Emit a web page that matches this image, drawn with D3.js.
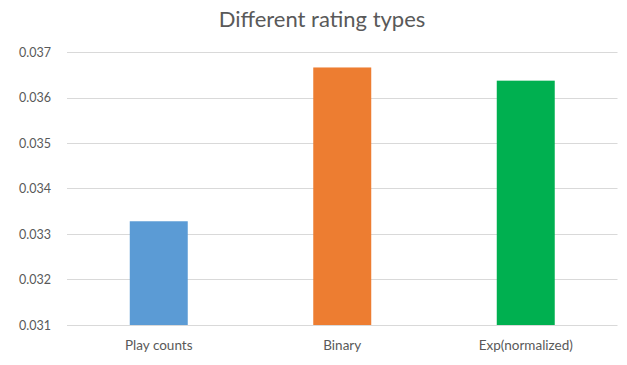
<!DOCTYPE html>
<html>
<head>
<meta charset="utf-8">
<script src="https://cdn.jsdelivr.net/npm/d3@7"></script>
<style>
  html, body { margin: 0; padding: 0; background: #fff; }
  svg { display: block; }
</style>
</head>
<body>
<svg id="chart" width="627" height="365"></svg>
<script>
// Chart content
const title = "Different rating types";
const categories = ["Play counts", "Binary", "Exp(normalized)"];
const values = [0.03328, 0.03666, 0.03637];
const barColors = ["#5b9bd5", "#ed7d31", "#00b050"];
const yTicks = [0.031, 0.032, 0.033, 0.034, 0.035, 0.036, 0.037];

const svg = d3.select("#chart");
const font = "Lato, 'Open Sans', sans-serif";
const textColor = "#595959";

const x = d3.scaleBand()
  .domain(categories)
  .range([67, 617.5])
  .paddingInner(0.684)
  .paddingOuter(0.342);

const y = d3.scaleLinear()
  .domain([0.031, 0.037])
  .range([325, 52]);

// Horizontal gridlines
svg.append("g")
  .selectAll("line")
  .data(yTicks)
  .join("line")
  .attr("x1", 67)
  .attr("x2", 617.5)
  .attr("y1", d => Math.round(y(d)) + 0.5)
  .attr("y2", d => Math.round(y(d)) + 0.5)
  .attr("stroke", "#d9d9d9")
  .attr("stroke-width", 1);

// Y axis labels
const yAxis = d3.axisLeft(y)
  .tickValues(yTicks)
  .tickFormat(d3.format(".3f"))
  .tickSize(0)
  .tickPadding(16);
const gy = svg.append("g").attr("transform", "translate(67,0)").call(yAxis);
gy.select(".domain").remove();
gy.selectAll("text")
  .attr("fill", textColor)
  .style("font-family", font)
  .style("font-size", "12.5px");

// Bars
svg.append("g")
  .selectAll("rect")
  .data(values)
  .join("rect")
  .attr("x", (d, i) => x(categories[i]))
  .attr("width", x.bandwidth())
  .attr("y", d => y(d))
  .attr("height", d => y(0.031) - y(d))
  .attr("fill", (d, i) => barColors[i]);

// X axis labels
const xAxis = d3.axisBottom(x).tickSize(0).tickPadding(15);
const gx = svg.append("g").attr("transform", "translate(0,325)").call(xAxis);
gx.select(".domain").remove();
gx.selectAll("text")
  .attr("fill", textColor)
  .style("font-family", font)
  .style("font-size", "13.5px");

// Title
svg.append("text")
  .attr("x", 322)
  .attr("y", 27)
  .attr("text-anchor", "middle")
  .attr("fill", textColor)
  .style("font-family", font)
  .style("font-size", "22px")
  .text(title);
</script>
</body>
</html>
